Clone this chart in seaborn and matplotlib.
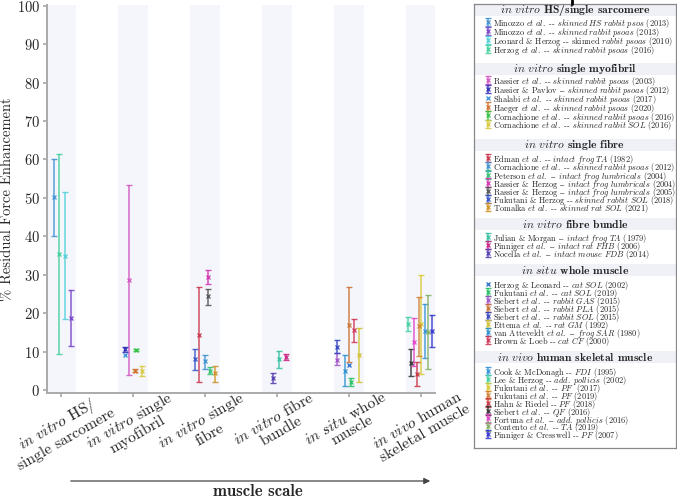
import numpy as np
import pandas as pd
import seaborn as sns
import matplotlib.pyplot as plt
from matplotlib.lines import Line2D
from matplotlib.legend import Legend

# muscle scales (x categories)
scales = [
    r"$\mathit{in\ vitro}$ HS/" + "\n" + "single sarcomere",
    r"$\mathit{in\ vitro}$ single" + "\n" + "myofibril",
    r"$\mathit{in\ vitro}$ single" + "\n" + "fibre",
    r"$\mathit{in\ vitro}$ fibre" + "\n" + "bundle",
    r"$\mathit{in\ situ}$ whole" + "\n" + "muscle",
    r"$\mathit{in\ vivo}$ human" + "\n" + "skeletal muscle",
]
section_titles = [
    r"$\mathit{in\ vitro}$ HS/single sarcomere",
    r"$\mathit{in\ vitro}$ single myofibril",
    r"$\mathit{in\ vitro}$ single fibre",
    r"$\mathit{in\ vitro}$ fibre bundle",
    r"$\mathit{in\ situ}$ whole muscle",
    r"$\mathit{in\ vivo}$ human skeletal muscle",
]

# studies in legend order
study_labels = [
    r"Minozzo $\mathit{et\ al.}$ -- $\mathit{skinned\ HS\ rabbit\ psos}$ (2013)",
    r"Minozzo $\mathit{et\ al.}$ -- $\mathit{skinned\ rabbit\ psoas}$ (2013)",
    r"Leonard & Herzog -- skinned $\mathit{rabbit\ psoas}$ (2010)",
    r"Herzog $\mathit{et\ al.}$ -- $\mathit{skinned\ rabbit\ psoas}$ (2016)",
    r"Rassier $\mathit{et\ al.}$ -- $\mathit{skinned\ rabbit\ psoas}$ (2003)",
    r"Rassier & Pavlov -- $\mathit{skinned\ rabbit\ psoas}$ (2012)",
    r"Shalabi $\mathit{et\ al.}$ -- $\mathit{skinned\ rabbit\ psoas}$ (2017)",
    r"Haeger $\mathit{et\ al.}$ -- $\mathit{skinned\ rabbit\ psoas}$ (2020)",
    r"Cornachione $\mathit{et\ al.}$ -- $\mathit{skinned\ rabbit\ psoas}$ (2016)",
    r"Cornachione $\mathit{et\ al.}$ -- $\mathit{skinned\ rabbit\ SOL}$ (2016)",
    r"Edman $\mathit{et\ al.}$ -- $\mathit{intact\ frog\ TA}$ (1982)",
    r"Cornachione $\mathit{et\ al.}$ -- $\mathit{skinned\ rabbit\ psoas}$ (2012)",
    r"Peterson $\mathit{et\ al.}$ -- $\mathit{intact\ frog\ lumbricals}$ (2004)",
    r"Rassier & Herzog -- $\mathit{intact\ frog\ lumbricals}$ (2004)",
    r"Rassier & Herzog -- $\mathit{intact\ frog\ lumbricals}$ (2005)",
    r"Fukutani & Herzog -- $\mathit{skinned\ rabbit\ SOL}$ (2018)",
    r"Tomalka $\mathit{et\ al.}$ -- $\mathit{skinned\ rat\ SOL}$ (2021)",
    r"Julian & Morgan -- $\mathit{intact\ frog\ TA}$ (1979)",
    r"Pinniger $\mathit{et\ al.}$ -- $\mathit{intact\ rat\ FHB}$ (2006)",
    r"Nocella $\mathit{et\ al.}$ -- $\mathit{intact\ mouse\ FDB}$ (2014)",
    r"Herzog & Leonard -- $\mathit{cat\ SOL}$ (2002)",
    r"Fukutani $\mathit{et\ al.}$ -- $\mathit{cat\ SOL}$ (2019)",
    r"Siebert $\mathit{et\ al.}$ -- $\mathit{rabbit\ GAS}$ (2015)",
    r"Siebert $\mathit{et\ al.}$ -- $\mathit{rabbit\ PLA}$ (2015)",
    r"Siebert $\mathit{et\ al.}$ -- $\mathit{rabbit\ SOL}$ (2015)",
    r"Ettema $\mathit{et\ al.}$ -- $\mathit{rat\ GM}$ (1992)",
    r"van Atteveldt $\mathit{et\ al.}$ -- $\mathit{frog\ SAR}$ (1980)",
    r"Brown & Loeb -- $\mathit{cat\ CF}$ (2000)",
    r"Cook & McDonagh -- $\mathit{FDI}$ (1995)",
    r"Lee & Herzog -- $\mathit{add.\ pollicis}$ (2002)",
    r"Fukutani $\mathit{et\ al.}$ -- $\mathit{PF}$  (2017)",
    r"Fukutani $\mathit{et\ al.}$ -- $\mathit{PF}$ (2019)",
    r"Hahn & Riedel -- $\mathit{PF}$ (2018)",
    r"Siebert $\mathit{et\ al.}$ -- $\mathit{QF}$ (2016)",
    r"Fortuna $\mathit{et\ al.}$ -- $\mathit{add.\ pollicis}$ (2016)",
    r"Contento $\mathit{et\ al.}$ -- $\mathit{TA}$ (2019)",
    r"Pinniger & Cresswell -- $\mathit{PF}$ (2007)",
]
study_scale = [0] * 4 + [1] * 6 + [2] * 7 + [3] * 3 + [4] * 8 + [5] * 9

# residual force enhancement (%), mean and error-bar limits (nan = no bar)
rfe_mean = [50.2, 18.7, 34.9, 35.4,
            28.6, 10.6, 9.1, 5.0, 10.4, 5.0,
            14.4, 7.4, 5.0, 29.5, 24.5, 8.0, 4.3,
            8.0, 8.5, 3.0,
            6.5, 2.1, 7.8, 17.0, 11.3, 9.0, 5.0, 15.5,
            15.3, 17.2, 17.2, 16.6, 4.2, 7.1, 12.4, 15.2, 15.4]
rfe_low = [40.1, 11.5, 18.4, 9.4,
           3.8, 10.0, np.nan, 4.6, 10.1, 3.6,
           2.1, 5.5, 4.2, 27.6, 22.2, 5.2, 2.1,
           5.7, 7.7, 1.7,
           np.nan, 1.0, 6.4, 7.2, 9.5, 2.1, 1.0, 12.5,
           8.2, 15.3, 4.2, 8.9, 1.1, 3.6, 6.1, 5.5, 11.2]
rfe_high = [60.2, 26.0, 51.5, 61.4,
            53.4, 11.3, np.nan, 5.5, 10.7, 6.3,
            26.7, 9.1, 5.9, 31.2, 26.3, 10.7, 6.3,
            10.1, 9.3, 4.4,
            np.nan, 3.1, 9.7, 26.9, 13.0, 16.0, 9.0, 18.5,
            22.3, 19.1, 29.9, 24.3, 7.3, 10.6, 18.8, 24.8, 19.6]

# horizontal position of each study inside its band
study_offset = [-0.10, 0.14, 0.05, -0.03,
                -0.05, -0.115, -0.11, 0.03, 0.04, 0.125,
                -0.08, 0.0, 0.065, 0.04, 0.04, -0.14, 0.14,
                0.03, 0.12, -0.05,
                0.0, 0.03, -0.16, 0.0, -0.16, 0.14, -0.06, 0.07,
                0.05, -0.18, 0.0, -0.03, -0.05, -0.14, -0.10, 0.10, 0.15]
study_color = ["#3d8fd1", "#7440c8", "#4dd0d8", "#3dcf98",
               "#d050c0", "#2a2ab8", "#4a9ae0", "#d0702a", "#30c040", "#d8c838",
               "#c83048", "#3a90d0", "#30c070", "#d030b0", "#505050", "#3050c8", "#d09020",
               "#30c0a0", "#c82080", "#5038b0",
               "#3878d0", "#20c060", "#a050c8", "#c87030", "#3040c0", "#d0c030", "#2890d0", "#d03050",
               "#3090d8", "#40d0a0", "#d8c830", "#d08030", "#c83040", "#303030", "#e040c8", "#80b060", "#3030d0"]

df = pd.DataFrame({"label": study_labels, "scale": study_scale, "mean": rfe_mean,
                   "low": rfe_low, "high": rfe_high})
df["x"] = df["scale"] + np.array(study_offset)

sns.set_theme(style="white")
plt.rcParams["font.family"] = ["cmr10", "DejaVu Serif"]
plt.rcParams["mathtext.fontset"] = "cm"
plt.rcParams["axes.formatter.use_mathtext"] = True
plt.rcParams["axes.unicode_minus"] = False

fig = plt.figure(figsize=(6.77, 4.97), dpi=100)
W, H = 677, 497
ax = fig.add_axes([47 / W, 1 - 393 / H, (435 - 47) / W, (393 - 5) / H])

# shaded band per muscle scale
for i in range(len(scales)):
    ax.axvspan(i - 0.21, i + 0.21, color="#f5f6fb", zorder=0, lw=0)

handles = []
for i, row in df.iterrows():
    c = study_color[i]
    if np.isnan(row["low"]):
        h = ax.errorbar(row["x"], row["mean"], fmt="x", color=c, ms=3, mew=1,
                        label=row["label"], zorder=3)
    else:
        yerr = [[row["mean"] - row["low"]], [row["high"] - row["mean"]]]
        h = ax.errorbar(row["x"], row["mean"], yerr=yerr, fmt="x", color=c, ms=3, mew=1,
                        ecolor=c, elinewidth=1.1, capsize=2.2, capthick=1.0, alpha=0.85,
                        label=row["label"], zorder=3)
    handles.append(h)

ax.set_xlim(-0.195, 5.195)
ax.set_ylim(-0.8, 100.2)
ax.set_yticks(range(0, 101, 10))
ax.set_xticks(range(len(scales)))
ax.set_xticklabels(scales, rotation=30, ha="center", fontsize=11.2, linespacing=1.0)
ax.tick_params(axis="y", labelsize=10.5, length=3, color="#aaaaaa", left=True, pad=2)
ax.tick_params(axis="x", length=3, color="#aaaaaa", bottom=True, pad=-6)
ax.set_ylabel("% Residual Force Enhancement", fontsize=10.5)
ax.yaxis.set_label_coords(-0.085, 0.5)
sns.despine(ax=ax)
for s in ["left", "bottom"]:
    ax.spines[s].set_color("#aaaaaa")
    ax.spines[s].set_linewidth(1.4)

# muscle scale arrow
ax.annotate("", xy=(433, H - 481), xytext=(68, H - 481), xycoords="figure pixels",
            textcoords="figure pixels",
            arrowprops=dict(arrowstyle="-|>", color="#444444", lw=0.9, mutation_scale=9))
fig.text(258 / W, 6 / H, "muscle scale", ha="center", va="center", fontsize=12,
         family=["cmb10", "DejaVu Serif"])

# legend panel
lax = fig.add_axes([474 / W, 1 - 448 / H, 202 / W, 444 / H])
lax.set_xlim(0, 202)
lax.set_ylim(448, 4)
lax.set_xticks([])
lax.set_yticks([])
for s in lax.spines.values():
    s.set_visible(True)
    s.set_color("#888888")
    s.set_linewidth(0.9)

leg_fs = 6.0
leg_px = leg_fs * 100 / 72
row_h = 1.6
header_y = [10, 69, 145, 224, 269.7, 357.3]
first_row_y = [24, 81.7, 160, 239, 285.7, 372.7]
row_pitch = [9.25, 9.2, 8.45, 8.35, 8.33, 8.25]
for k, title in enumerate(section_titles):
    lax.axhspan(header_y[k] - 6, header_y[k] + 6, color="#eff1f7", lw=0, zorder=0)
    lax.text(101, header_y[k], title, ha="center", va="center", fontsize=8.4,
             family=["cmb10", "DejaVu Serif"])
    idx = [i for i, s in enumerate(study_scale) if s == k]
    leg = Legend(lax, [handles[i] for i in idx], [study_labels[i] for i in idx],
                 loc="upper left",
                 bbox_to_anchor=(11.5, first_row_y[k] - row_h * leg_px / 2),
                 bbox_transform=lax.transData, frameon=False, fontsize=leg_fs,
                 labelspacing=(row_pitch[k] - row_h * leg_px) / leg_px,
                 handlelength=0.5, handleheight=row_h,
                 handletextpad=0.35, borderpad=0, borderaxespad=0)
    lax.add_artist(leg)

fig.add_artist(Line2D([572 / W, 572 / W], [1, 1 - 4 / H], color="black", lw=2))

fig.savefig("out.png", dpi=100)
